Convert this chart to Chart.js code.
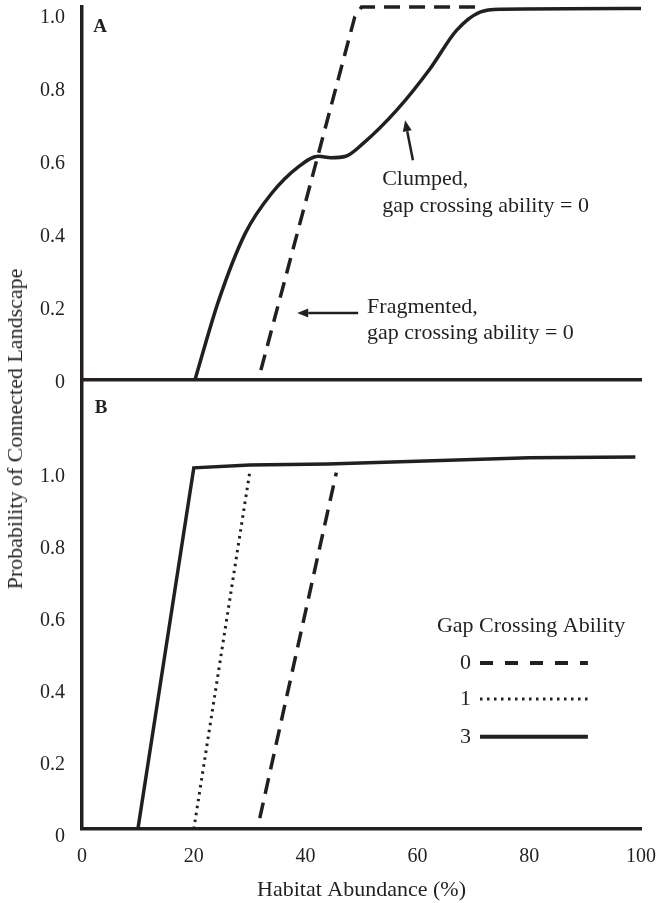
<!DOCTYPE html>
<html>
<head>
<meta charset="utf-8">
<script src="https://cdn.jsdelivr.net/npm/chart.js@4"></script>
<style>
  html, body { margin: 0; padding: 0; background: #fff; }
  body { width: 657px; height: 903px; position: relative; overflow: hidden;
         font-family: "Liberation Serif", serif; color: #231f20; }
  .box { position: absolute; left: 0; }
  #boxA { top: -40px; width: 657px; height: 480px; }
  #boxB { top: 340px; width: 672px; height: 563px; }
  #ytitle { position: absolute; left: 15px; top: 429px; white-space: nowrap; font-size: 22px;
            transform: translate(-50%, -50%) rotate(-90deg); }
</style>
</head>
<body>
<div class="box" id="boxA"><canvas id="chartA"></canvas></div>
<div class="box" id="boxB"><canvas id="chartB"></canvas></div>
<div id="ytitle">Probability of Connected Landscape</div>
<script>
// ── panel A: gap crossing ability = 0 ──
const clumpedX = [20.2, 24.4, 29.2, 33.9, 38.7, 42.3, 44.5, 47.2, 50.3, 56.3, 62.3, 67, 71.2, 75, 100];
const clumpedY = [0, 0.215, 0.401, 0.51, 0.583, 0.612, 0.608, 0.612, 0.647, 0.738, 0.852, 0.956, 1.006, 1.014, 1.016];
const fragX = [32, 48.8, 50, 70.6];
const fragY = [0.027, 0.993, 1.02, 1.02];

// ── panel B: fragmented, by gap crossing ability ──
const gap0X = [31.8, 45.5];
const gap0Y = [0.03, 0.99];
const gap1X = [20, 30];
const gap1Y = [0, 0.99];
const gap3X = [10, 20, 30, 44, 80, 99];
const gap3Y = [0, 1.003, 1.011, 1.014, 1.031, 1.033];

const yTicks = [0, 0.2, 0.4, 0.6, 0.8, 1.0];
const xTicks = [0, 20, 40, 60, 80, 100];
const legendLabels = ['0', '1', '3'];

const ink = '#231f20';
const serif = '"Liberation Serif", "Times New Roman", serif';
const pts = (xs, ys) => xs.map((x, i) => ({ x, y: ys[i] }));

const line = (xs, ys, dash, extra) => Object.assign({
  data: pts(xs, ys),
  borderColor: ink,
  borderWidth: 3.5,
  borderDash: dash,
  pointRadius: 0,
  fill: false,
  clip: false,
  tension: 0
}, extra || {});

function arrow(ctx, x1, y1, x2, y2) {
  const a = Math.atan2(y2 - y1, x2 - x1), len = 11, half = 4.5;
  const bx = x2 - len * Math.cos(a), by = y2 - len * Math.sin(a);
  ctx.beginPath();
  ctx.moveTo(x1, y1);
  ctx.lineTo(bx, by);
  ctx.stroke();
  ctx.beginPath();
  ctx.moveTo(x2, y2);
  ctx.lineTo(bx + half * Math.sin(a), by - half * Math.cos(a));
  ctx.lineTo(bx - half * Math.sin(a), by + half * Math.cos(a));
  ctx.closePath();
  ctx.fill();
}

const yScale = (max, offset) => ({
  type: 'linear', min: 0, max,
  afterFit: s => { s.width = 82; },
  afterBuildTicks: s => { s.ticks = yTicks.map(v => ({ value: v })); },
  grid: { display: false, drawTicks: false },
  border: { display: true, color: ink, width: 3.5 },
  ticks: {
    color: ink, padding: 17, labelOffset: offset,
    font: { family: serif, size: 20 },
    callback: v => v === 0 ? '0' : v.toFixed(1)
  }
});

// ── annotations for A ──
const notesA = {
  id: 'notesA',
  afterDraw(chart) {
    const { ctx, scales: { x, y } } = chart;
    const px = v => x.getPixelForValue(v), py = v => y.getPixelForValue(v);
    ctx.save();
    ctx.fillStyle = ink;
    ctx.strokeStyle = ink;
    ctx.lineWidth = 2.5;
    ctx.font = 'bold 19px ' + serif;
    ctx.fillText('A', px(2), py(0.951));
    ctx.font = '22px ' + serif;
    ctx.fillText('Clumped,', px(53.7), py(0.533));
    ctx.fillText('gap crossing ability = 0', px(53.7), py(0.459));
    ctx.fillText('Fragmented,', px(51), py(0.183));
    ctx.fillText('gap crossing ability = 0', px(51), py(0.112));
    arrow(ctx, px(59.2), py(0.601), px(57.8), py(0.71));
    arrow(ctx, px(49.4), py(0.183), px(38.5), py(0.183));
    ctx.restore();
  }
};

// ── label and legend for B ──
const notesB = {
  id: 'notesB',
  afterDraw(chart) {
    const { ctx, scales: { x, y } } = chart;
    const px = v => x.getPixelForValue(v), py = v => y.getPixelForValue(v);
    ctx.save();
    ctx.fillStyle = ink;
    ctx.strokeStyle = ink;
    ctx.font = 'bold 19px ' + serif;
    ctx.fillText('B', px(2.3), py(1.156));
    ctx.font = '22px ' + serif;
    ctx.fillText('Gap Crossing Ability', px(63.5), py(0.547));
    const dashes = [[13, 12], [2.5, 4.5], []];
    const rows = [0.461, 0.361, 0.256];
    ctx.textBaseline = 'middle';
    legendLabels.forEach((lab, i) => {
      ctx.fillText(lab, px(67.6), py(rows[i]));
      ctx.beginPath();
      ctx.setLineDash(dashes[i]);
      ctx.lineWidth = i === 1 ? 3 : 4;
      ctx.moveTo(px(71.2), py(rows[i]));
      ctx.lineTo(px(90.5), py(rows[i]));
      ctx.stroke();
    });
    ctx.restore();
  }
};

Chart.defaults.animation = false;
Chart.defaults.plugins.legend.display = false;
Chart.defaults.plugins.tooltip.enabled = false;

new Chart(document.getElementById('chartA'), {
  type: 'line',
  data: {
    datasets: [
      line(clumpedX, clumpedY, [], { cubicInterpolationMode: 'monotone' }),
      line(fragX, fragY, [16, 9])
    ]
  },
  options: {
    responsive: true,
    maintainAspectRatio: false,
    layout: { padding: { top: 47, right: 16, left: 0, bottom: 0 } },
    scales: {
      x: {
        type: 'linear', min: 0, max: 100,
        afterFit: s => { s.height = 60; },
        grid: { display: false, drawTicks: false },
        border: { display: true, color: ink, width: 3.5 },
        ticks: { display: false }
      },
      y: yScale(1.02, 3)
    }
  },
  plugins: [notesA]
});

new Chart(document.getElementById('chartB'), {
  type: 'line',
  data: {
    datasets: [
      line(gap3X, gap3Y, []),
      line(gap1X, gap1Y, [2.5, 4.5], { borderWidth: 3 }),
      line(gap0X, gap0Y, [16, 9])
    ]
  },
  options: {
    responsive: true,
    maintainAspectRatio: false,
    layout: { padding: { top: 40, right: 16, left: 0, bottom: 0 } },
    scales: {
      x: {
        type: 'linear', min: 0, max: 100,
        afterFit: s => { s.height = 74; },
        afterBuildTicks: s => { s.ticks = xTicks.map(v => ({ value: v })); },
        grid: { display: false, drawTicks: false },
        border: { display: true, color: ink, width: 3.5 },
        ticks: { color: ink, padding: 16, font: { family: serif, size: 20 } },
        title: {
          display: true, text: 'Habitat Abundance (%)', color: ink,
          font: { family: serif, size: 22 }, padding: { top: 6, bottom: 0 }
        }
      },
      y: yScale(1.247, 8)
    }
  },
  plugins: [notesB]
});
</script>
</body>
</html>
